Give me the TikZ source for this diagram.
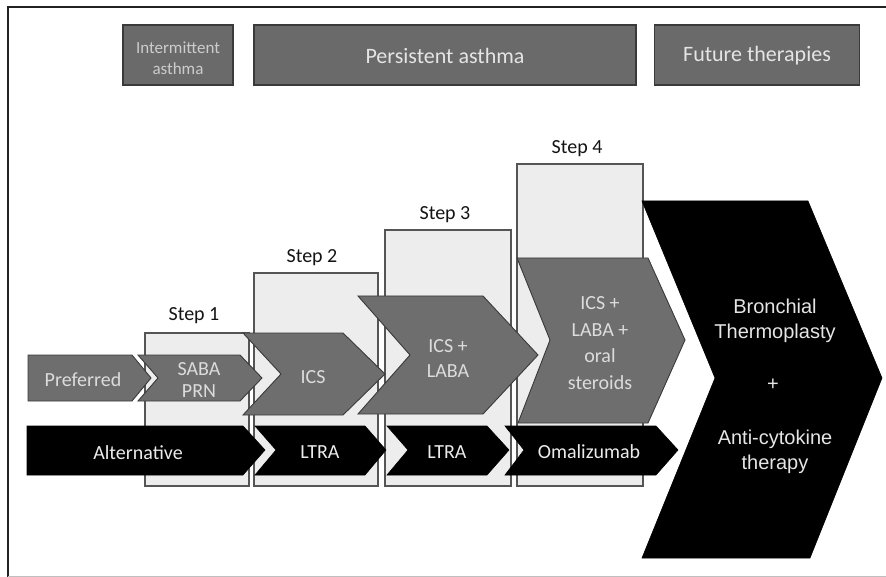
\documentclass[tikz,border=0pt]{standalone}
\usepackage{fontspec}
\setmainfont{Carlito}
\newfontfamily\arialf{Liberation Sans}
\definecolor{chevgray}{HTML}{6E6E6E}
\definecolor{chevedge}{HTML}{3A3A3A}
\definecolor{topgray}{HTML}{6A6A6A}
\definecolor{topedge}{HTML}{3A3A3A}
\definecolor{stepfill}{HTML}{EDEDED}
\definecolor{stepedge}{HTML}{555555}
\definecolor{gtext}{HTML}{DCDCDC}
\definecolor{frameline}{HTML}{222222}
\begin{document}
\begin{tikzpicture}[x=1pt,y=-1pt,
  gchev/.style={fill=chevgray,draw=chevedge,line width=0.9pt,line join=miter},
  bchev/.style={fill=black,draw=black,line width=0.6pt,line join=miter},
  stepbox/.style={fill=stepfill,draw=stepedge,line width=1.1pt},
  topbox/.style={fill=topgray,draw=topedge,line width=1.2pt,inner sep=0pt},
  gtxt/.style={text=gtext,font=\fontsize{20}{22}\selectfont,align=center,inner sep=0pt},
  btxt/.style={text=white!92!black,font=\fontsize{20}{22}\selectfont,align=center,inner sep=0pt},
  steplbl/.style={text=black!92,font=\fontsize{20}{22}\selectfont,inner sep=0pt},
  bigtxt/.style={text=white!90!black,font=\arialf\fontsize{20}{25}\selectfont,align=center,inner sep=0pt}
]
\useasboundingbox (0,0) rectangle (886,577);
\fill[white] (0,0) rectangle (886,577);
% frame
\draw[frameline,line width=1.8pt] (8,577) -- (8,7) -- (886,7);
\draw[black!25,line width=1pt] (8,576) -- (886,576);

% top boxes
\node[topbox,minimum width=110,minimum height=60] (inter) at (178,55) {};
\node[text=black!20,font=\fontsize{17}{21}\selectfont,align=center,inner sep=0pt] (intertxt) at (178,58) {Intermittent\\asthma};
\node[topbox,minimum width=382,minimum height=60] (pers) at (445,55) {};
\node[text=black!10,font=\fontsize{22}{26}\selectfont,inner sep=0pt] (perstxt) at (445,56) {Persistent asthma};
\node[topbox,minimum width=205,minimum height=60] (fut) at (757,55) {};
\node[text=black!10,font=\fontsize{22}{26}\selectfont,inner sep=0pt] (futtxt) at (757,56) {Future therapies};

% step boxes
\draw[stepbox] (145,333) rectangle (249,486);
\draw[stepbox] (254,273) rectangle (378,486);
\draw[stepbox] (385,230) rectangle (511,486);
\draw[stepbox] (517,164) rectangle (643,486);
\node[steplbl] (s1) at (194,316) {Step 1};
\node[steplbl] (s2) at (312,258) {Step 2};
\node[steplbl] (s3) at (445,215) {Step 3};
\node[steplbl] (s4) at (577,149) {Step 4};

% preferred row (gray chevrons)
\draw[gchev] (28,355) -- (132,355) -- (151,378) -- (132,401) -- (28,401) -- cycle;
\draw[gchev] (138,355) -- (240,355) -- (262,378) -- (240,401) -- (138,401) -- (158,378) -- cycle;
\draw[gchev] (243,333) -- (343,333) -- (385,374) -- (343,415) -- (243,415) -- (281,374) -- cycle;
\draw[gchev] (358,296) -- (483,296) -- (538,355) -- (483,414) -- (358,414) -- (410,355) -- cycle;
\draw[gchev] (517,258) -- (648,258) -- (685,340) -- (648,423) -- (518,423) -- (550,340) -- cycle;

\node[gtxt] (pref) at (83,380) {Preferred};
\node[gtxt] (saba) at (199,380) {SABA\\PRN};
\node[gtxt] (ics) at (313,377) {ICS};
\node[gtxt,font=\fontsize{20}{25}\selectfont] (icslaba) at (448,359) {ICS +\\LABA};
\node[gtxt,font=\fontsize{20}{26.5}\selectfont] (icsoral) at (600,343) {ICS +\\LABA +\\oral\\steroids};

% alternative row (black chevrons)
\draw[bchev] (27,426) -- (243,426) -- (265,450) -- (243,475) -- (27,475) -- cycle;
\draw[bchev] (255,426) -- (365,426) -- (386,450) -- (365,475) -- (255,475) -- (276,450) -- cycle;
\draw[bchev] (387,426) -- (487,426) -- (509,450) -- (487,475) -- (387,475) -- (408,450) -- cycle;
\draw[bchev] (505,426) -- (656,426) -- (678,450) -- (656,475) -- (505,475) -- (524,450) -- cycle;

\node[btxt] (alt) at (138,453) {Alternative};
\node[btxt] (ltra2) at (320,452) {LTRA};
\node[btxt] (ltra3) at (447,452) {LTRA};
\node[btxt] (omal) at (589,452) {Omalizumab};

% big future chevron
\draw[bchev] (642,201) -- (808,201) -- (882,378) -- (810,558) -- (642,558) -- (715,378) -- cycle;
\node[bigtxt] (bt) at (775,321) {Bronchial\\Thermoplasty};
\node[bigtxt] (plus) at (773,385) {+};
\node[bigtxt] (ac) at (775,452) {Anti-cytokine\\therapy};
\end{tikzpicture}
\end{document}
